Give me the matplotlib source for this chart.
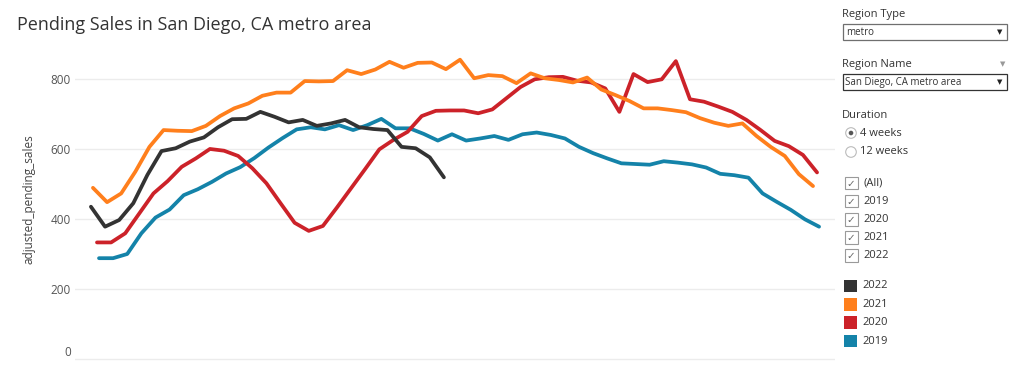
import numpy as np
import pandas as pd
import matplotlib
matplotlib.use("Agg")
import matplotlib.pyplot as plt
from matplotlib.patches import Rectangle, Circle

plt.rcParams['font.family'] = ['Open Sans', 'DejaVu Sans']

# weekly adjusted pending sales
sales_2019 = [289, 289, 301, 360, 405, 428, 469, 486, 507, 531, 549, 575, 605,
              632, 657, 663, 657, 669, 655, 669, 687, 660, 660, 644, 625, 643,
              625, 631, 638, 627, 643, 648, 641, 631, 607, 589, 574, 560, 558,
              556, 566, 562, 557, 548, 530, 526, 519, 474, 450, 427, 400, 379]
sales_2020 = [334, 334, 360, 417, 474, 509, 550, 574, 601, 596, 581, 546, 503,
              446, 390, 367, 381, 434, 489, 544, 600, 627, 650, 695, 710, 711,
              711, 703, 714, 746, 778, 800, 806, 807, 796, 791, 774, 707, 815,
              792, 800, 852, 743, 736, 722, 707, 684, 655, 624, 609, 584, 534]
sales_2021 = [490, 449, 474, 536, 607, 655, 653, 652, 667, 695, 717, 731, 753,
              762, 762, 795, 794, 795, 826, 815, 828, 850, 833, 847, 848, 829,
              856, 803, 812, 809, 789, 817, 803, 798, 791, 805, 771, 755, 738,
              717, 717, 712, 706, 689, 676, 667, 674, 638, 607, 581, 529, 495]
sales_2022 = [436, 379, 398, 446, 527, 595, 603, 622, 634, 663, 686, 687, 707,
              693, 677, 684, 667, 674, 684, 663, 658, 655, 607, 603, 577, 520]

years = [2022, 2021, 2020, 2019]
series = {2019: sales_2019, 2020: sales_2020, 2021: sales_2021, 2022: sales_2022}
colors = {2022: '#333333', 2021: '#ff7f1c', 2020: '#cc2229', 2019: '#1483a9'}
yticks = [0, 200, 400, 600, 800]


def week_days(year, n):
    # weeks ending on Sunday, placed by day of year
    d = pd.date_range(f"{year}-01-01", periods=n, freq="W-SUN")
    return d.dayofyear.to_numpy()


W, H = 1024, 366
fig = plt.figure(figsize=(W / 100, H / 100), dpi=100)

ax = fig.add_axes([75 / W, 0, 760 / W, 321 / H])
for yr in [2019, 2020, 2021, 2022]:
    vals = series[yr]
    ax.plot(week_days(yr, len(vals)), vals, color=colors[yr], lw=2.7,
            solid_joinstyle='round', solid_capstyle='round')

ax.set_xlim(-5.9, 370.9)
ax.set_ylim(-19, 898)
ax.set_xticks([])
ax.set_yticks(yticks)
ax.set_yticklabels([str(t) for t in yticks])
ax.tick_params(axis='y', length=0, pad=3, labelsize=8.5, labelcolor='#555555')
ax.get_yticklabels()[0].set_va('bottom')
ax.yaxis.grid(True, color='#ececec', lw=1)
ax.set_axisbelow(True)
for s in ax.spines.values():
    s.set_visible(False)
ax.set_ylabel('adjusted_pending_sales', fontsize=8.5, color='#444444')
ax.yaxis.set_label_coords(-0.052, 0.52)

fig.text(17 / W, 1 - 25 / H, 'Pending Sales in San Diego, CA metro area',
         fontsize=13, color='#333333', va='center', ha='left')

# right-hand filter / legend panel in pixel coordinates
ui = fig.add_axes([0, 0, 1, 1])
ui.set_xlim(0, W)
ui.set_ylim(H, 0)
ui.axis('off')
ui.patch.set_alpha(0)

txt = dict(fontsize=8, color='#333333', va='center', ha='left')
ui.text(842, 14, 'Region Type', **txt)
ui.add_patch(Rectangle((842.5, 24), 164, 16, fc='white', ec='#6f6f6f', lw=0.9))
ui.text(846, 32.5, 'metro', fontsize=7, color='#333333', va='center')
ui.text(1000, 32.5, '▼', fontsize=5, color='#222222', va='center', ha='center',
        family='DejaVu Sans')

ui.text(842, 64, 'Region Name', **txt)
ui.text(1003, 64, '▼', fontsize=5, color='#999999', va='center', ha='center',
        family='DejaVu Sans')
ui.add_patch(Rectangle((842.5, 74), 164, 16, fc='white', ec='#333333', lw=0.9))
ui.text(845, 82.5, 'San Diego, CA metro area', fontsize=7, color='#333333',
        va='center')
ui.text(1000, 82.5, '▼', fontsize=5, color='#222222', va='center', ha='center',
        family='DejaVu Sans')

ui.text(842, 115, 'Duration', **txt)
for yy, label, on in [(133, '4 weeks', True), (152, '12 weeks', False)]:
    ui.add_patch(Circle((851, yy), 5.3, fc='white', ec='#bbbbbb', lw=0.8))
    if on:
        ui.add_patch(Circle((851, yy), 2.3, fc='#555555', ec='none'))
    ui.text(860, yy, label, **txt)

for yy, label in zip([183, 201, 219.5, 237.5, 255.5],
                     ['(All)', '2019', '2020', '2021', '2022']):
    ui.add_patch(Rectangle((845, yy - 6.3), 12.6, 12.6, fc='white',
                           ec='#9a9a9a', lw=0.8))
    ui.text(851.3, yy + 0.5, '✓', fontsize=7.5, color='#666666', va='center',
            ha='center', family='DejaVu Sans')
    ui.text(863, yy, label, **txt)

for yy, yr in zip([286, 304.5, 322.5, 341], years):
    ui.add_patch(Rectangle((844, yy - 6.3), 12.6, 12.6, fc=colors[yr],
                           ec='none'))
    ui.text(862, yy, str(yr), **txt)

fig.savefig('out.png', dpi=100)
